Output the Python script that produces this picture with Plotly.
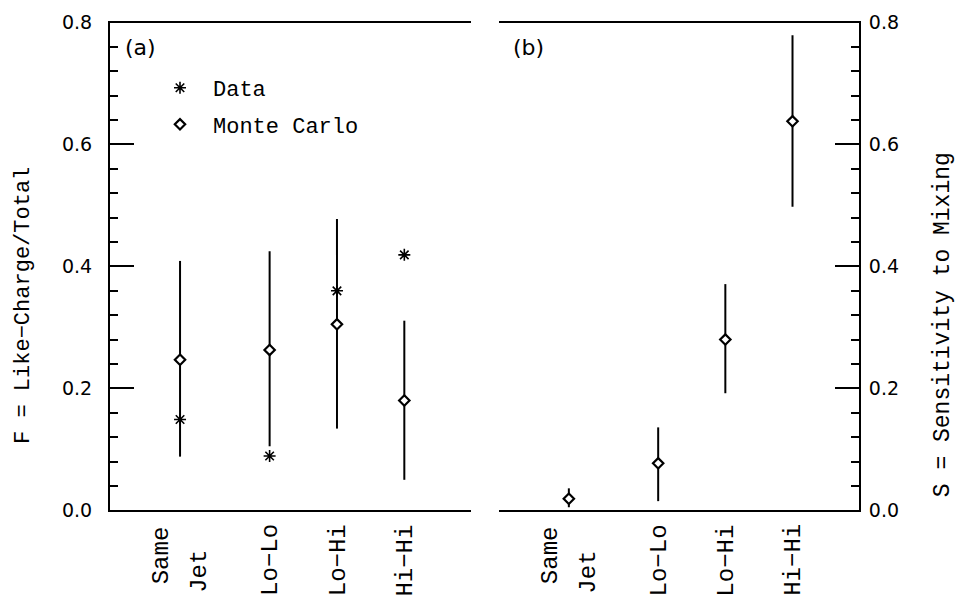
import plotly.graph_objects as go

# Pair categories (x) and the measured / simulated quantities
categories = ["Same Jet", "Lo−Lo", "Lo−Hi", "Hi−Hi"]

# Panel (a): F = like-charge fraction
data_f = [0.149, 0.089, 0.360, 0.419]
mc_f = [0.247, 0.263, 0.305, 0.180]
mc_f_hi = [0.409, 0.425, 0.478, 0.311]
mc_f_lo = [0.088, 0.105, 0.134, 0.050]

# Panel (b): S = sensitivity to mixing
mc_s = [0.019, 0.077, 0.280, 0.638]
mc_s_hi = [0.036, 0.136, 0.371, 0.779]
mc_s_lo = [0.005, 0.015, 0.192, 0.498]

# horizontal slots for the four categories (Same Jet sits a bit apart)
slots = [1.0, 2.33, 3.33, 4.33]

W, H = 962, 609
MONO = "Liberation Mono"
SANS = "DejaVu Sans"


def px_x(p):
    return p / W


def px_y(p):
    return 1 - p / H


def errs(val, hi, lo):
    return [h - v for v, h in zip(val, hi)], [v - l for v, l in zip(val, lo)]


fig = go.Figure()

up_f, dn_f = errs(mc_f, mc_f_hi, mc_f_lo)
up_s, dn_s = errs(mc_s, mc_s_hi, mc_s_lo)

diamond = dict(symbol="diamond", size=8, color="white",
               line=dict(color="black", width=2.2))

fig.add_trace(go.Scatter(
    x=slots, y=data_f, mode="markers", name="Data", legendgroup="d",
    marker=dict(symbol="asterisk-open", size=10, color="black",
                line=dict(color="black", width=1.6)),
    xaxis="x", yaxis="y"))

fig.add_trace(go.Scatter(
    x=slots, y=mc_f, mode="markers", name="Monte Carlo", legendgroup="m",
    marker=diamond,
    error_y=dict(type="data", array=up_f, arrayminus=dn_f, width=0,
                 thickness=2, color="black"),
    xaxis="x", yaxis="y"))

fig.add_trace(go.Scatter(
    x=slots, y=mc_s, mode="markers", name="Monte Carlo", showlegend=False,
    marker=diamond,
    error_y=dict(type="data", array=up_s, arrayminus=dn_s, width=0,
                 thickness=2, color="black"),
    xaxis="x2", yaxis="y2"))

y_top, y_bot = 12, 518
ydom = [px_y(y_bot), px_y(y_top)]


def xaxis(dom, anchor):
    return dict(domain=dom, anchor=anchor, range=[-0.04, 5.32],
                tickmode="array", tickvals=slots, showticklabels=False,
                ticks="", showgrid=False, zeroline=False,
                showline=True, linewidth=2, linecolor="black", mirror=True)


def ticks_y(anchor, side, labels, standoff=4, overlay=None):
    ax = dict(domain=ydom, anchor=anchor, side=side, range=[0, 0.8],
              tick0=0, dtick=0.2, tickformat=".1f",
              ticks="inside", ticklen=24, tickwidth=2, tickcolor="black",
              showline=True, linewidth=2, linecolor="black",
              showgrid=False, zeroline=False, showticklabels=labels,
              tickfont=dict(family=SANS, size=19, color="black"),
              ticklabelstandoff=standoff,
              minor=dict(ticks="inside", ticklen=8, tickwidth=1.6,
                         tickcolor="black", tick0=0, dtick=0.04,
                         showgrid=False))
    if overlay:
        ax["overlaying"] = overlay
    return ax


annotations = [
    dict(text="(a)", x=px_x(123), y=px_y(38), xref="paper", yref="paper",
         xanchor="left", yanchor="middle", showarrow=False,
         font=dict(family=SANS, size=22, color="black")),
    dict(text="(b)", x=px_x(511), y=px_y(38), xref="paper", yref="paper",
         xanchor="left", yanchor="middle", showarrow=False,
         font=dict(family=SANS, size=22, color="black")),
    dict(text="F = Like−Charge/Total", textangle=-90,
         x=px_x(24), y=px_y(306), xref="paper", yref="paper",
         xanchor="center", yanchor="middle", showarrow=False,
         font=dict(family=MONO, size=22, color="black")),
    dict(text="S = Sensitivity to Mixing", textangle=-90,
         x=px_x(943), y=px_y(326), xref="paper", yref="paper",
         xanchor="center", yanchor="middle", showarrow=False,
         font=dict(family=MONO, size=23, color="black")),
]

# rotated category labels under both panels
for xref in ("x", "x2"):
    for pos, name in zip(slots, categories):
        words = name.split(" ")
        if len(words) == 2:
            parts = [(words[0], -19, -2), (words[1], 20, -26)]
        else:
            parts = [(name, 1, 0)]
        for txt, dx, dy in parts:
            annotations.append(dict(
                text=txt, textangle=-90, x=pos, y=ydom[0], xref=xref,
                yref="paper", xanchor="center", yanchor="top",
                xshift=dx, yshift=-12 + dy, showarrow=False,
                font=dict(family=MONO, size=24, color="black")))

fig.update_layout(
    width=W, height=H,
    margin=dict(l=0, r=0, t=0, b=0),
    paper_bgcolor="white", plot_bgcolor="white",
    xaxis=xaxis([px_x(110), px_x(471)], "y"),
    yaxis=ticks_y("x", "left", True, standoff=12),
    yaxis3=ticks_y("x", "right", False, overlay="y"),
    xaxis2=xaxis([px_x(499), px_x(859)], "y2"),
    yaxis2=ticks_y("x2", "right", True, standoff=4),
    yaxis4=ticks_y("x2", "left", False, overlay="y2"),
    showlegend=True,
    legend=dict(x=px_x(147), y=px_y(58), xanchor="left", yanchor="top",
                bgcolor="rgba(0,0,0,0)", borderwidth=0,
                font=dict(family=MONO, size=22, color="black"),
                traceorder="grouped", tracegroupgap=5, itemwidth=56),
    annotations=annotations,
)

fig.write_html("out.html")
